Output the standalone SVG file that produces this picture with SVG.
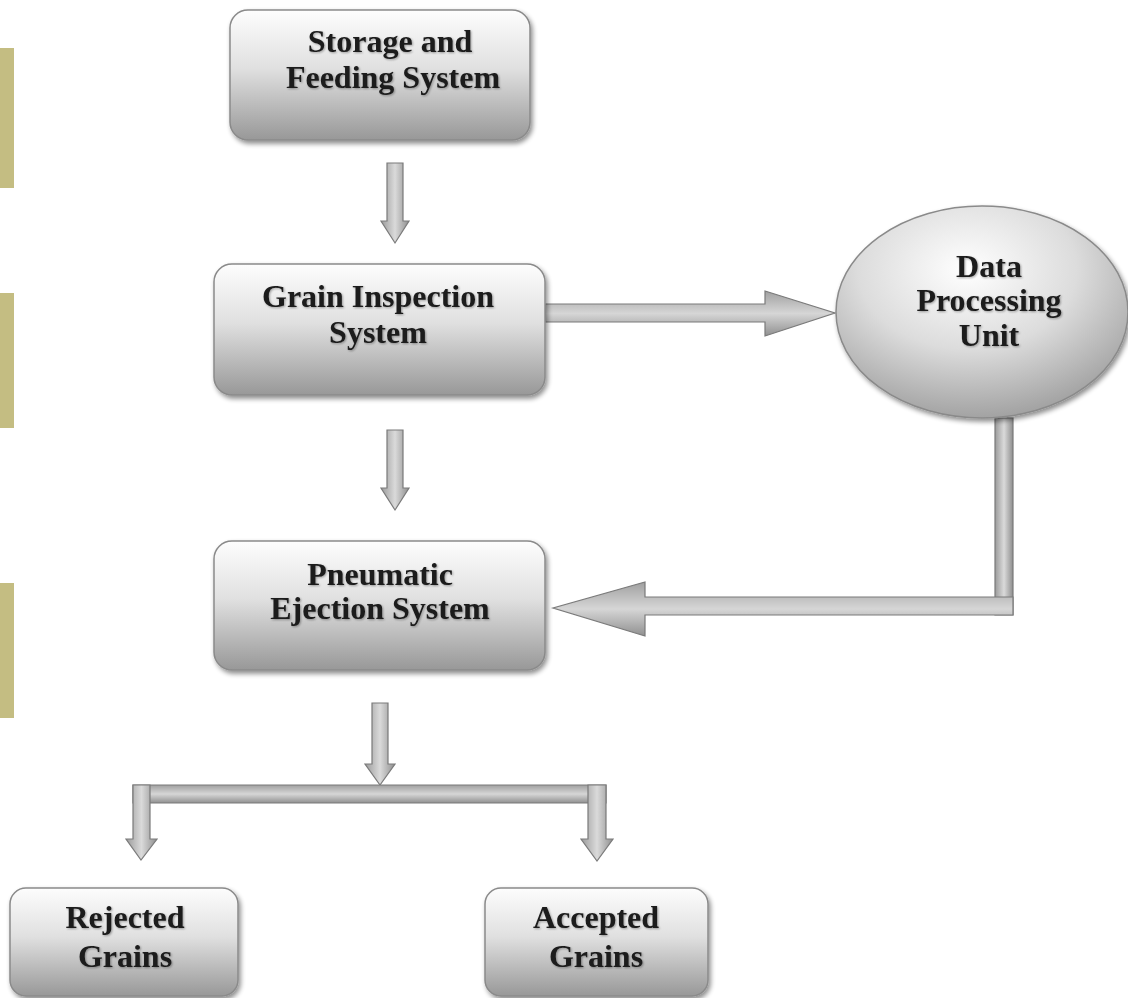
<svg xmlns="http://www.w3.org/2000/svg" width="1128" height="998" viewBox="0 0 1128 998">
<defs>
<linearGradient id="boxg" x1="0" y1="0" x2="0" y2="1">
<stop offset="0" stop-color="#fdfdfd"/>
<stop offset="0.45" stop-color="#e0e0e0"/>
<stop offset="1" stop-color="#989898"/>
</linearGradient>
<radialGradient id="ellg" cx="0.45" cy="0.3" r="0.75">
<stop offset="0" stop-color="#ffffff"/>
<stop offset="0.5" stop-color="#dcdcdc"/>
<stop offset="1" stop-color="#9a9a9a"/>
</radialGradient>
<linearGradient id="vshaft" x1="0" y1="0" x2="1" y2="0">
<stop offset="0" stop-color="#9a9a9a"/>
<stop offset="0.5" stop-color="#dadada"/>
<stop offset="1" stop-color="#8e8e8e"/>
</linearGradient>
<linearGradient id="hshaft" x1="0" y1="0" x2="0" y2="1">
<stop offset="0" stop-color="#a0a0a0"/>
<stop offset="0.5" stop-color="#d6d6d6"/>
<stop offset="1" stop-color="#909090"/>
</linearGradient>
<filter id="sh" x="-10%" y="-10%" width="120%" height="130%">
<feGaussianBlur in="SourceAlpha" stdDeviation="2.5"/>
<feOffset dx="2" dy="3" result="b"/>
<feComponentTransfer><feFuncA type="linear" slope="0.45"/></feComponentTransfer>
<feMerge><feMergeNode/><feMergeNode in="SourceGraphic"/></feMerge>
</filter>
<filter id="tsh" x="-5%" y="-20%" width="110%" height="140%">
<feGaussianBlur in="SourceAlpha" stdDeviation="1"/>
<feOffset dx="1" dy="1"/>
<feComponentTransfer><feFuncA type="linear" slope="0.35"/></feComponentTransfer>
<feMerge><feMergeNode/><feMergeNode in="SourceGraphic"/></feMerge>
</filter>
</defs>
<style>
.box{fill:url(#boxg);stroke:#8a8a8a;stroke-width:1.5;filter:url(#sh)}
.ell{fill:url(#ellg);stroke:#8a8a8a;stroke-width:1.5;filter:url(#sh)}
.lbl{font-family:"Liberation Serif","Times New Roman",serif;font-weight:bold;font-size:32px;fill:#1a1a1a;text-anchor:middle;filter:url(#tsh)}
.va{fill:url(#vshaft);stroke:#7a7a7a;stroke-width:1.2;stroke-linejoin:miter}
.ha{fill:url(#hshaft);stroke:#7a7a7a;stroke-width:1.2;stroke-linejoin:miter}
.bar{fill:#c4bd82}
</style>
<rect width="1128" height="998" fill="#ffffff"/>
<g id="sidebars">
<rect class="bar" x="0" y="48" width="14" height="140"/>
<rect class="bar" x="0" y="293" width="14" height="135"/>
<rect class="bar" x="0" y="583" width="14" height="135"/>
</g>
<g id="connectors">
<polygon class="va" points="387,163 403,163 403,221 409,221 395,243 381,221 387,221"/>
<polygon class="va" points="387,430 403,430 403,488 409,488 395,510 381,488 387,488"/>
<polygon class="ha" points="545,304 765,304 765,291 835,313 765,336 765,322 545,322"/>
<polygon class="va" points="995,418 1013,418 1013,615 995,615"/>
<polygon class="ha" points="1013,597 1013,615 645,615 645,636 553,608 645,582 645,597"/>
<polygon class="va" points="372,703 388,703 388,764 395,764 380,785 365,764 372,764"/>
<polygon class="ha" points="133,785 606,785 606,803 133,803"/>
<polygon class="va" points="133,785 150,785 150,839 157,839 141,860 126,839 133,839"/>
<polygon class="va" points="588,785 606,785 606,839 613,839 597,861 581,839 588,839"/>
</g>
<g id="storage">
<rect class="box" x="230" y="10" width="300" height="130" rx="18"/>
<text class="lbl" x="390" y="52">Storage and</text>
<text class="lbl" x="393" y="88">Feeding System</text>
</g>
<g id="inspection">
<rect class="box" x="214" y="264" width="331" height="131" rx="18"/>
<text class="lbl" x="378" y="307">Grain Inspection</text>
<text class="lbl" x="378" y="343">System</text>
</g>
<g id="dpu">
<ellipse class="ell" cx="982" cy="312" rx="146" ry="106"/>
<text class="lbl" x="989" y="277">Data</text>
<text class="lbl" x="989" y="311">Processing</text>
<text class="lbl" x="989" y="346">Unit</text>
</g>
<g id="ejection">
<rect class="box" x="214" y="541" width="331" height="129" rx="18"/>
<text class="lbl" x="380" y="585">Pneumatic</text>
<text class="lbl" x="380" y="619">Ejection System</text>
</g>
<g id="rejected">
<rect class="box" x="10" y="888" width="228" height="108" rx="16"/>
<text class="lbl" x="125" y="928">Rejected</text>
<text class="lbl" x="125" y="967">Grains</text>
</g>
<g id="accepted">
<rect class="box" x="485" y="888" width="223" height="108" rx="16"/>
<text class="lbl" x="596" y="928">Accepted</text>
<text class="lbl" x="596" y="967">Grains</text>
</g>
</svg>
